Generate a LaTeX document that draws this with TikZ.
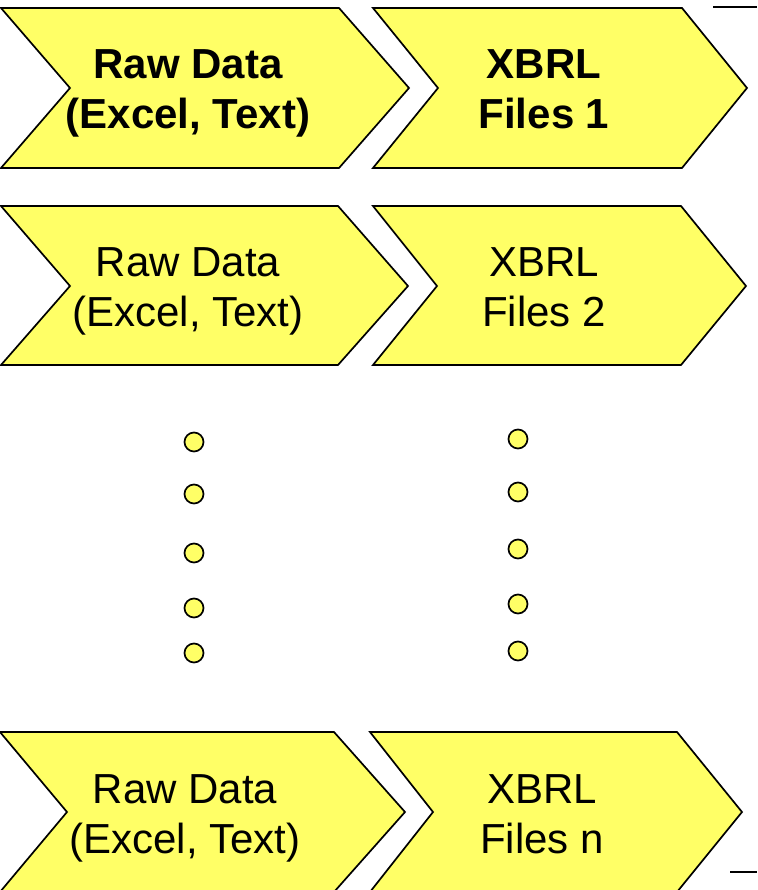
\documentclass[tikz,border=0pt]{standalone}
\usepackage{fontspec}
\setmainfont{Liberation Sans}
\definecolor{chevyellow}{RGB}{255,255,102}
\begin{document}
\begin{tikzpicture}[x=1pt,y=-1pt,
  chev/.style={draw=black,fill=chevyellow,line width=1.7pt,line join=miter},
  lbl/.style={inner sep=0pt,align=center,font=\fontsize{42}{50}\selectfont},
  dot/.style={circle,draw=black,fill=chevyellow,line width=1.7pt,minimum size=19pt,inner sep=0pt},
  rule/.style={draw=black,line width=1.5pt}]
\useasboundingbox (0,0) rectangle (757,890);
% row 1
\draw[chev] (1,8) -- (339,8) -- (409,88) -- (339,168) -- (1,168) -- (70,88) -- cycle;
\draw[chev] (373,8) -- (682,8) -- (747,88) -- (682,168) -- (373,168) -- (438,88) -- cycle;
\node[lbl,font=\fontsize{42}{50}\selectfont\bfseries] (raw1) at (188,94) {\strut Raw Data\\\strut (Excel, Text)};
\node[lbl,font=\fontsize{42}{50}\selectfont\bfseries] (xbrl1) at (544,94) {\strut XBRL\\\strut Files 1};
% row 2
\draw[chev] (1,206) -- (338,206) -- (408,286) -- (338,365) -- (1,365) -- (70,286) -- cycle;
\draw[chev] (373,206) -- (681,206) -- (746,286) -- (681,365) -- (373,365) -- (437,286) -- cycle;
\node[lbl] (raw2) at (188,291) {\strut Raw Data\\\strut (Excel, Text)};
\node[lbl] (xbrl2) at (544,291) {\strut XBRL\\\strut Files 2};
% row n
\draw[chev] (0,732) -- (334,732) -- (405,812) -- (334,892) -- (0,892) -- (67,812) -- cycle;
\draw[chev] (370,732) -- (677,732) -- (742,812) -- (677,892) -- (370,892) -- (433,812) -- cycle;
\node[lbl] (rawn) at (185,818) {\strut Raw Data\\\strut (Excel, Text)};
\node[lbl] (xbrln) at (542,818) {\strut XBRL\\\strut Files n};
% dots
\node[dot] (dl1) at (194,442) {};
\node[dot] (dl2) at (194,494) {};
\node[dot] (dl3) at (194,553) {};
\node[dot] (dl4) at (194,608) {};
\node[dot] (dl5) at (194,653) {};
\node[dot] (dr1) at (518,439) {};
\node[dot] (dr2) at (518,492) {};
\node[dot] (dr3) at (518,549) {};
\node[dot] (dr4) at (518,604) {};
\node[dot] (dr5) at (518,651) {};
% edge rules
\coordinate (ta) at (713,7);
\coordinate (tb) at (757,7);
\coordinate (ba) at (730,872);
\coordinate (bb) at (757,872);
\draw[rule] (ta) -- (tb);
\draw[rule] (ba) -- (bb);
\end{tikzpicture}
\end{document}
